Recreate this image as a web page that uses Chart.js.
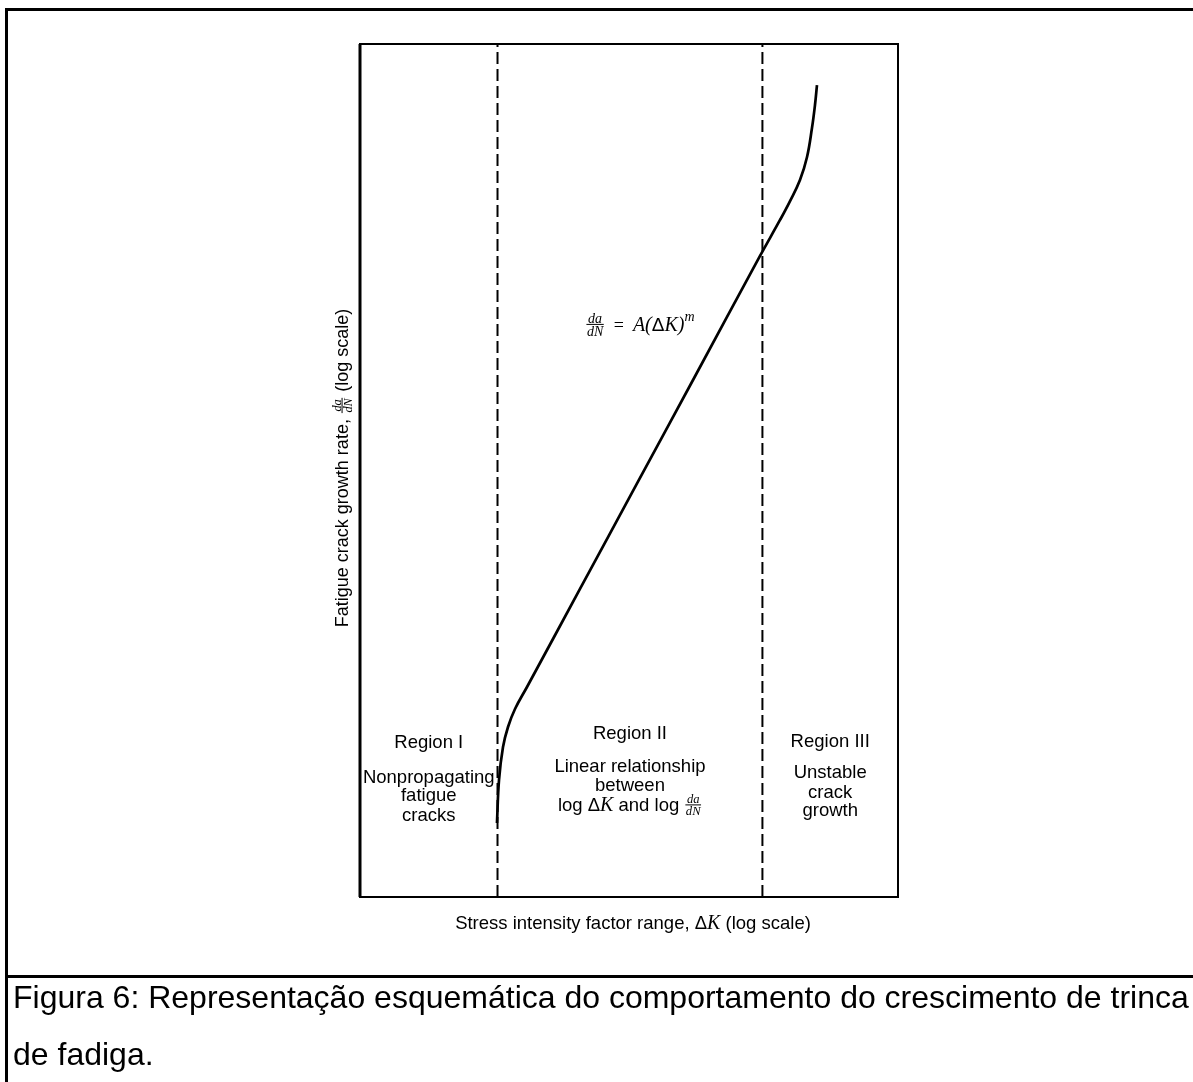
<!DOCTYPE html>
<html>
<head>
<meta charset="utf-8">
<script src="https://cdn.jsdelivr.net/npm/chart.js@4"></script>
<style>
  body { margin: 0; background: #fff; width: 1193px; height: 1082px; overflow: hidden; position: relative; }
  #frame { position: absolute; left: 5px; top: 8px; width: 1200px; height: 1100px; border-left: 3px solid #000; border-top: 3px solid #000; }
  #rule { position: absolute; left: 5px; top: 975px; width: 1193px; height: 3px; background: #000; }
  #chartBox { position: absolute; left: 0; top: 0; width: 1193px; height: 975px; }
  #caption { position: absolute; left: 13px; top: 969px; font-family: "Liberation Sans", Arial, sans-serif; font-size: 32px; line-height: 57px; color: #000; white-space: nowrap; }
</style>
</head>
<body>
<div id="frame"></div>
<div id="chartBox"><canvas id="crackChart" width="1193" height="975"></canvas></div>
<div id="rule"></div>
<div id="caption">Figura 6: Representação esquemática do comportamento do crescimento de trinca<br>de fadiga.</div>
<script>
// curve (schematic log axes, 0..100 on both)
const deltaK = [25.46, 25.84, 26.58, 27.51, 28.81, 31.04, 40.89, 51.67, 61.90, 74.35, 78.07, 79.93, 81.78, 83.09, 84.01, 84.57, 84.94];
const growthRate = [8.68, 13.72, 17.58, 19.93, 22.04, 24.62, 36.11, 48.70, 60.61, 75.15, 79.37, 81.59, 84.06, 86.75, 90.15, 92.85, 95.19];
const regionBounds = [25.56, 74.8];
const regionNames = ['Region I', 'Region II', 'Region III'];
const regionNotes = [
  ['Nonpropagating', 'fatigue', 'cracks'],
  ['Linear relationship', 'between', 'log ΔK and log da/dN'],
  ['Unstable', 'crack', 'growth']
];
const xTitle = 'Stress intensity factor range, ΔK (log scale)';
const yTitle = 'Fatigue crack growth rate, da/dN (log scale)';

const SANS = '"Liberation Sans", Arial, sans-serif';
const SERIF = '"Liberation Serif", "Times New Roman", serif';

// fit caption to the page width
(function() {
  let cap = document.getElementById('caption');
  let ctx = document.createElement('canvas').getContext('2d');
  ctx.font = '100px ' + SANS;
  let w = ctx.measureText('Figura 6: Representação esquemática do comportamento do crescimento de trinca').width;
  cap.style.fontSize = (1176 / w * 100).toFixed(2) + 'px';
})();

function toParts(str, size) {
  return str.split(/(ΔK|da\/dN)/).filter(Boolean).map(function(s) {
    if (s === 'da/dN') return {num: 'da', den: 'dN', size: size * 0.68, base: size};
    if (s === 'ΔK') return [{t: 'Δ', font: size + 'px ' + SANS}, {t: 'K', font: 'italic ' + (size * 1.08) + 'px ' + SERIF}];
    return {t: s, font: size + 'px ' + SANS};
  }).flat();
}

function partWidth(ctx, p) {
  if (p.num) {
    ctx.font = 'italic ' + p.size + 'px ' + SERIF;
    return Math.max(ctx.measureText(p.num).width, ctx.measureText(p.den).width) + 3;
  }
  ctx.font = p.font;
  return ctx.measureText(p.t).width;
}

function drawParts(ctx, parts, cx, y) {
  let total = parts.reduce(function(s, p) { return s + partWidth(ctx, p); }, 0);
  let x = cx - total / 2;
  ctx.textBaseline = 'alphabetic';
  parts.forEach(function(p) {
    let w = partWidth(ctx, p);
    if (p.num) {
      ctx.font = 'italic ' + p.size + 'px ' + SERIF;
      ctx.textAlign = 'center';
      let bar = y - p.base * 0.33;
      ctx.fillText(p.num, x + w / 2, bar - 1.5);
      ctx.fillText(p.den, x + w / 2, bar + p.size * 0.8);
      ctx.fillRect(x + 1, bar - 0.5, w - 2, 1);
    } else {
      ctx.font = p.font;
      ctx.textAlign = 'left';
      ctx.fillText(p.t, x, y + (p.dy || 0));
    }
    x += w;
  });
}

const annotations = {
  id: 'annotations',
  afterDatasetsDraw(chart) {
    let ctx = chart.ctx, a = chart.chartArea;
    let xs = chart.scales.x;
    ctx.save();
    ctx.strokeStyle = '#000';
    ctx.fillStyle = '#000';
    ctx.lineWidth = 2;
    ctx.strokeRect(a.left, a.top, a.right - a.left, a.bottom - a.top);
    ctx.lineWidth = 3;
    ctx.beginPath();
    ctx.moveTo(a.left, a.top);
    ctx.lineTo(a.left, a.bottom);
    ctx.stroke();

    // region labels (baselines)
    let edges = [xs.min].concat(regionBounds, [xs.max]);
    let titleY = [748, 739, 747];
    let noteY = [[783, 801, 821], [772, 791, 811], [778, 798, 816]];
    regionNames.forEach(function(name, i) {
      let cx = xs.getPixelForValue((edges[i] + edges[i + 1]) / 2);
      drawParts(ctx, toParts(name, 18.5), cx, titleY[i]);
      regionNotes[i].forEach(function(line, j) {
        drawParts(ctx, toParts(line, 18.5), cx, noteY[i][j]);
      });
    });

    // equation
    let eq = [
      {num: 'da', den: 'dN', size: 14, base: 20},
      {t: '  =  ', font: '18px ' + SERIF},
      {t: 'A(', font: 'italic 20px ' + SERIF},
      {t: 'Δ', font: '19px ' + SANS},
      {t: 'K', font: 'italic 20px ' + SERIF},
      {t: ')', font: 'italic 20px ' + SERIF},
      {t: 'm', font: 'italic 14px ' + SERIF, dy: -10}
    ];
    drawParts(ctx, eq, 640, 331);

    // axis titles
    drawParts(ctx, toParts(xTitle, 18.5), (a.left + a.right) / 2 + 4, 929);
    ctx.translate(348, 468);
    ctx.rotate(-Math.PI / 2);
    drawParts(ctx, toParts(yTitle, 18), 0, 0);
    ctx.restore();
  }
};

let growthPoints = deltaK.map(function(k, i) { return {x: k, y: growthRate[i]}; });

function boundaryLine(k) {
  return {
    data: [{x: k, y: 0}, {x: k, y: 100}],
    showLine: true,
    borderColor: '#000',
    borderWidth: 2,
    borderDash: [12, 5],
    pointRadius: 0
  };
}

new Chart(document.getElementById('crackChart').getContext('2d'), {
  type: 'scatter',
  data: {
    datasets: [{
      label: 'da/dN',
      data: growthPoints,
      showLine: true,
      borderColor: '#000',
      borderWidth: 2.7,
      pointRadius: 0,
      tension: 0.4
    }].concat(regionBounds.map(boundaryLine))
  },
  options: {
    responsive: false,
    animation: false,
    layout: {padding: {left: 360, right: 295, top: 44, bottom: 78}},
    plugins: {legend: {display: false}, tooltip: {enabled: false}},
    scales: {
      x: {type: 'linear', min: 0, max: 100, display: false},
      y: {type: 'linear', min: 0, max: 100, display: false}
    }
  },
  plugins: [annotations]
});
</script>
</body>
</html>
